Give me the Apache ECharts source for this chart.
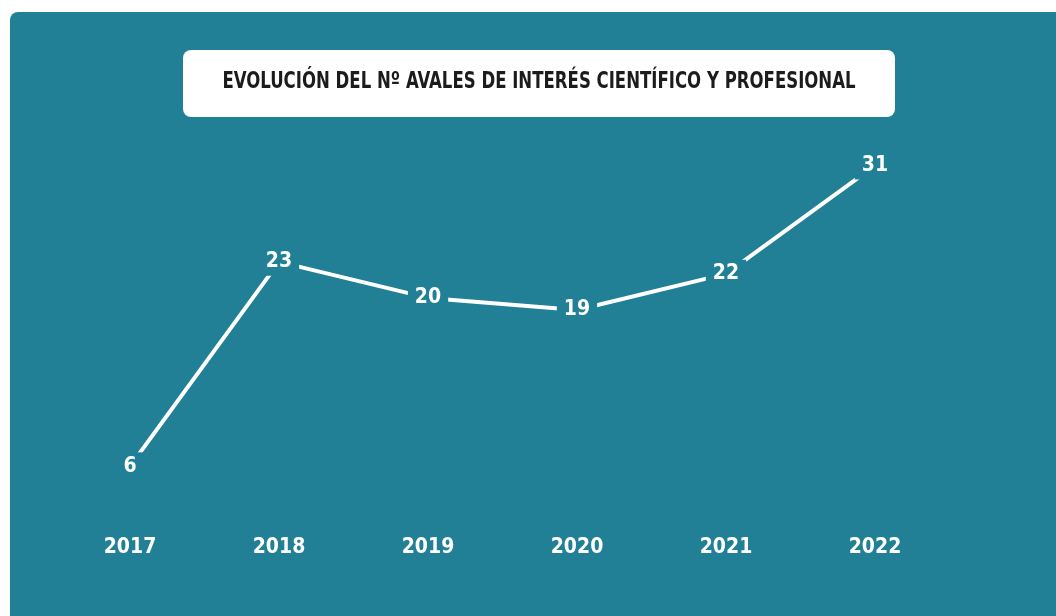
<!DOCTYPE html>
<html>
<head>
<meta charset="utf-8">
<script src="https://cdn.jsdelivr.net/npm/echarts@6/dist/echarts.min.js"></script>
<style>
html,body{margin:0;padding:0;background:#ffffff;}
#chart{width:1056px;height:616px;}
</style>
</head>
<body>
<div id="chart"></div>
<script>
const categories = ['2017', '2018', '2019', '2020', '2021', '2022'];
const avales = [6, 23, 20, 19, 22, 31];
const titleText = 'EVOLUCIÓN DEL Nº AVALES DE INTERÉS CIENTÍFICO Y PROFESIONAL';

const FONT = "'DejaVu Sans Condensed', 'DejaVu Sans', sans-serif";
const TEAL = '#217f96';

const chart = echarts.init(document.getElementById('chart'));
chart.setOption({
  animation: false,
  backgroundColor: '#ffffff',
  graphic: [
    { type: 'rect', z: -10, shape: { x: 10, y: 12, width: 1070, height: 640, r: 8 }, style: { fill: TEAL } },
    { type: 'rect', z: -5, shape: { x: 183, y: 50, width: 712, height: 67, r: 8 }, style: { fill: '#ffffff' } },
    {
      type: 'text', z: 10, x: 539, y: 82, scaleX: 0.8,
      style: {
        text: titleText, x: 0, y: 0,
        align: 'center', verticalAlign: 'middle',
        fontFamily: FONT, fontWeight: 'bold', fontSize: 23, fill: '#1c1c1c'
      }
    }
  ],
  grid: { left: 55.5, width: 894, top: 117.5, height: 421 },
  xAxis: {
    type: 'category',
    data: categories,
    boundaryGap: true,
    axisLine: { show: false },
    axisTick: { show: false },
    axisLabel: { margin: 0, lineHeight: 18, color: '#ffffff', fontFamily: FONT, fontWeight: 'bold', fontSize: 21 }
  },
  yAxis: {
    type: 'value', min: 0, max: 35,
    show: false,
    splitLine: { show: false }
  },
  series: [{
    type: 'line',
    data: avales,
    symbol: 'circle',
    symbolSize: 1,
    itemStyle: { color: TEAL },
    lineStyle: { color: '#ffffff', width: 4 },
    label: {
      show: true,
      position: 'inside',
      color: '#ffffff',
      fontFamily: FONT,
      fontWeight: 'bold',
      fontSize: 21,
      lineHeight: 20,
      backgroundColor: TEAL,
      padding: [4, 7]
    }
  }]
});
</script>
</body>
</html>
